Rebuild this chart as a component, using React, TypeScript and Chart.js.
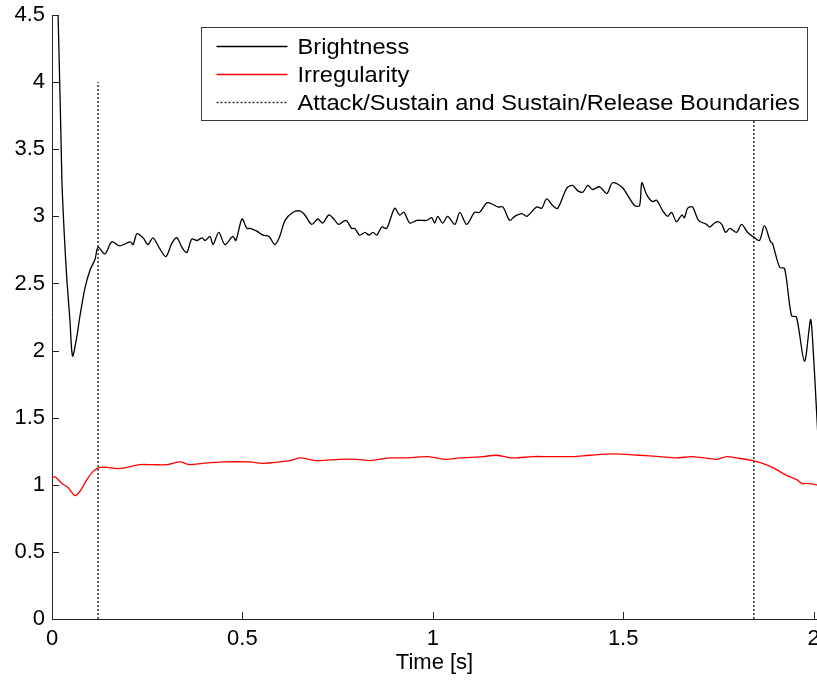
import React, { useEffect, useRef } from "react";
import { Chart, registerables } from "chart.js";

Chart.register(...registerables);

const FONT = "'Liberation Sans', Arial, Helvetica, sans-serif";

// ---- data ----
const brightnessTime = [
  0, 0.016, 0.026, 0.032, 0.039, 0.047, 0.054, 0.065, 0.073, 0.087,
  0.100, 0.113, 0.121, 0.139, 0.157, 0.178, 0.205, 0.213, 0.223, 0.239,
  0.252, 0.265, 0.283, 0.299, 0.315, 0.328, 0.341, 0.354, 0.367, 0.381,
  0.394, 0.402, 0.415, 0.423, 0.438, 0.454, 0.475, 0.483, 0.499, 0.512,
  0.520, 0.538, 0.554, 0.570, 0.585, 0.598, 0.612, 0.633, 0.651, 0.664,
  0.682, 0.698, 0.711, 0.727, 0.743, 0.753, 0.772, 0.787, 0.795, 0.808,
  0.822, 0.832, 0.843, 0.853, 0.866, 0.879, 0.900, 0.913, 0.924, 0.940,
  0.958, 0.984, 0.997, 1.005, 1.013, 1.026, 1.039, 1.058, 1.071, 1.089,
  1.110, 1.123, 1.142, 1.157, 1.171, 1.184, 1.202, 1.215, 1.234, 1.247,
  1.273, 1.286, 1.299, 1.315, 1.328, 1.352, 1.367, 1.381, 1.394, 1.407,
  1.420, 1.438, 1.457, 1.472, 1.496, 1.509, 1.530, 1.543, 1.549, 1.562,
  1.577, 1.588, 1.604, 1.617, 1.627, 1.640, 1.654, 1.661, 1.669, 1.682,
  1.698, 1.719, 1.727, 1.740, 1.748, 1.759, 1.769, 1.780, 1.798, 1.811,
  1.827, 1.845, 1.858, 1.871, 1.887, 1.892, 1.911, 1.924, 1.942, 1.955,
  1.976, 1.992, 1.997, 2.008, 2.02,
];
const brightness = [
  5.6, 4.50, 3.27, 2.88, 2.53, 2.23, 1.96, 2.10, 2.25, 2.47,
  2.60, 2.68, 2.77, 2.72, 2.81, 2.78, 2.81, 2.79, 2.87, 2.84,
  2.79, 2.84, 2.76, 2.70, 2.80, 2.84, 2.77, 2.73, 2.83, 2.82,
  2.84, 2.82, 2.85, 2.79, 2.88, 2.79, 2.85, 2.82, 2.98, 2.91,
  2.91, 2.89, 2.86, 2.85, 2.79, 2.85, 2.97, 3.03, 3.04, 3.01,
  2.94, 2.98, 2.95, 3.01, 2.97, 2.94, 2.97, 2.91, 2.91, 2.86,
  2.88, 2.86, 2.88, 2.86, 2.92, 2.91, 3.06, 3.01, 3.03, 2.95,
  2.97, 2.97, 2.99, 2.95, 3.00, 2.95, 3.00, 2.94, 3.03, 2.94,
  3.03, 3.03, 3.10, 3.09, 3.07, 3.07, 2.97, 3.00, 3.02, 3.00,
  3.07, 3.06, 3.13, 3.08, 3.06, 3.21, 3.23, 3.19, 3.18, 3.23,
  3.20, 3.22, 3.17, 3.25, 3.22, 3.17, 3.08, 3.08, 3.25, 3.16,
  3.11, 3.12, 3.04, 3.00, 3.03, 2.96, 3.01, 2.99, 3.06, 3.07,
  2.97, 2.94, 2.92, 2.95, 2.96, 2.94, 2.88, 2.91, 2.88, 2.94,
  2.88, 2.84, 2.82, 2.93, 2.81, 2.80, 2.62, 2.61, 2.26, 2.25,
  1.92, 2.23, 2.10, 1.54, 0.9,
];

const irregularityTime = [
  0, 0.008, 0.026, 0.042, 0.060, 0.073, 0.092, 0.108, 0.126, 0.144,
  0.171, 0.197, 0.231, 0.265, 0.302, 0.336, 0.362, 0.396, 0.449, 0.520,
  0.554, 0.625, 0.651, 0.696, 0.756, 0.801, 0.835, 0.887, 0.927, 0.987,
  1.031, 1.071, 1.131, 1.168, 1.210, 1.262, 1.307, 1.367, 1.412, 1.472,
  1.543, 1.596, 1.640, 1.682, 1.745, 1.772, 1.798, 1.840, 1.866, 1.892,
  1.929, 1.955, 1.969, 1.982, 2.008, 2.02,
];
const irregularity = [
  1.05, 1.06, 1.01, 0.98, 0.92, 0.95, 1.04, 1.10, 1.13, 1.13,
  1.12, 1.13, 1.15, 1.15, 1.15, 1.17, 1.15, 1.16, 1.17, 1.17,
  1.16, 1.18, 1.20, 1.18, 1.19, 1.19, 1.18, 1.20, 1.20, 1.21,
  1.19, 1.20, 1.21, 1.22, 1.20, 1.21, 1.21, 1.21, 1.22, 1.23,
  1.22, 1.21, 1.20, 1.21, 1.19, 1.21, 1.20, 1.18, 1.16, 1.13,
  1.07, 1.04, 1.01, 1.01, 1.00, 0.99,
];

const boundaryTimes = [0.121, 1.843];
const boundaryRange = [0, 4];

const legendLabels = [
  "Brightness",
  "Irregularity",
  "Attack/Sustain and Sustain/Release Boundaries",
];

const xTicks = [0, 0.5, 1, 1.5, 2];
const yTicks = [0, 0.5, 1, 1.5, 2, 2.5, 3, 3.5, 4, 4.5];
const xMin = 0;
const xMax = 2.009;
const yMin = 0;
const yMax = 4.5;
const xTitle = "Time [s]";

const AXIS_COLOR = "#262626";

export default function App() {
  const ref = useRef<HTMLCanvasElement>(null);

  useEffect(() => {
    const canvas = ref.current;
    if (!canvas) return;

    const inwardTicks = {
      id: "inwardTicks",
      afterDraw(chart: any) {
        const { ctx, chartArea } = chart;
        const x = chart.scales.x;
        const y = chart.scales.y;
        ctx.save();
        ctx.strokeStyle = AXIS_COLOR;
        ctx.lineWidth = 1;
        ctx.beginPath();
        for (const t of x.ticks) {
          const px = Math.round(x.getPixelForValue(t.value)) + 0.5;
          ctx.moveTo(px, chartArea.bottom);
          ctx.lineTo(px, chartArea.bottom - 7);
        }
        for (const t of y.ticks) {
          const py = Math.round(y.getPixelForValue(t.value)) + 0.5;
          ctx.moveTo(chartArea.left, py);
          ctx.lineTo(chartArea.left + 7, py);
        }
        ctx.stroke();
        ctx.restore();
      },
    };

    const legendBox = {
      id: "legendBox",
      afterDraw(chart: any) {
        const { ctx, chartArea } = chart;
        const left = chartArea.left + 149.5;
        const top = chartArea.top + 12.5;
        const w = 606;
        const h = 93;
        ctx.save();
        ctx.fillStyle = "#ffffff";
        ctx.fillRect(left, top, w, h);
        ctx.strokeStyle = "#3a3a3a";
        ctx.lineWidth = 1;
        ctx.strokeRect(left, top, w, h);
        ctx.font = `22px ${FONT}`;
        ctx.textBaseline = "middle";
        ctx.textAlign = "left";
        for (let i = 0; i < legendLabels.length; i++) {
          const ds = chart.data.datasets[i];
          const yy = Math.round(top + 18 + i * 28) + 0.5;
          ctx.strokeStyle = ds.borderColor;
          ctx.lineWidth = ds.borderWidth;
          ctx.setLineDash(ds.borderDash || []);
          ctx.beginPath();
          ctx.moveTo(left + 15, yy);
          ctx.lineTo(left + 86, yy);
          ctx.stroke();
          ctx.setLineDash([]);
          ctx.fillStyle = "#000";
          ctx.save();
          ctx.translate(left + 96, yy + 1);
          ctx.scale(1.075, 1);
          ctx.fillText(legendLabels[i], 0, 0);
          ctx.restore();
        }
        ctx.restore();
      },
    };

    const brightnessData = brightnessTime.map((t, i) => ({ x: t, y: brightness[i] }));
    const irregularityData = irregularityTime.map((t, i) => ({ x: t, y: irregularity[i] }));

    const boundaryDatasets = boundaryTimes.map((t, i) => ({
      label: i === 0 ? legendLabels[2] : legendLabels[2] + " (2)",
      data: boundaryRange.map((v) => ({ x: t, y: v })),
      borderColor: "#333333",
      borderWidth: 1.5,
      borderDash: [2, 2],
      pointRadius: 0,
      tension: 0,
    }));

    const tickFont = { family: FONT, size: 22 };

    const chart = new Chart(canvas, {
      type: "line",
      data: {
        datasets: [
          {
            label: legendLabels[0],
            data: brightnessData,
            borderColor: "#000000",
            borderWidth: 1.3,
            pointRadius: 0,
            tension: 0.3,
          },
          {
            label: legendLabels[1],
            data: irregularityData,
            borderColor: "#ff0000",
            borderWidth: 1.3,
            pointRadius: 0,
            tension: 0.3,
          },
          ...boundaryDatasets,
        ],
      },
      options: {
        animation: false,
        responsive: true,
        maintainAspectRatio: false,
        layout: { padding: { top: 15, right: 0, bottom: 0, left: 0 } },
        plugins: {
          legend: { display: false },
          tooltip: { enabled: false },
        },
        scales: {
          x: {
            type: "linear",
            min: xMin,
            max: xMax,
            afterBuildTicks: (s: any) => {
              s.ticks = xTicks.map((v) => ({ value: v }));
            },
            afterFit: (s: any) => {
              s.height = 66;
              s.paddingLeft = 0;
              s.paddingRight = 0;
            },
            ticks: {
              font: tickFont,
              color: "#000",
              padding: 7,
              maxRotation: 0,
              autoSkip: false,
              callback: (v: any) => String(v),
            },
            grid: { drawOnChartArea: false, drawTicks: false },
            border: { display: true, color: AXIS_COLOR, width: 1 },
            title: {
              display: true,
              text: xTitle,
              font: tickFont,
              color: "#000",
              padding: { top: 0, bottom: 9 },
            },
          },
          y: {
            type: "linear",
            min: yMin,
            max: yMax,
            afterBuildTicks: (s: any) => {
              s.ticks = yTicks.map((v) => ({ value: v }));
            },
            afterFit: (s: any) => {
              s.width = 52;
              s.paddingTop = 0;
              s.paddingBottom = 0;
            },
            ticks: {
              font: tickFont,
              color: "#000",
              padding: 7,
              autoSkip: false,
              callback: (v: any) => String(v),
            },
            grid: { drawOnChartArea: false, drawTicks: false },
            border: { display: true, color: AXIS_COLOR, width: 1 },
          },
        },
      },
      plugins: [inwardTicks, legendBox],
    });

    return () => chart.destroy();
  }, []);

  return (
    <div
      style={{
        position: "fixed",
        left: 0,
        top: 0,
        width: 817,
        height: 685,
        background: "#ffffff",
      }}
    >
      <canvas ref={ref} />
    </div>
  );
}
